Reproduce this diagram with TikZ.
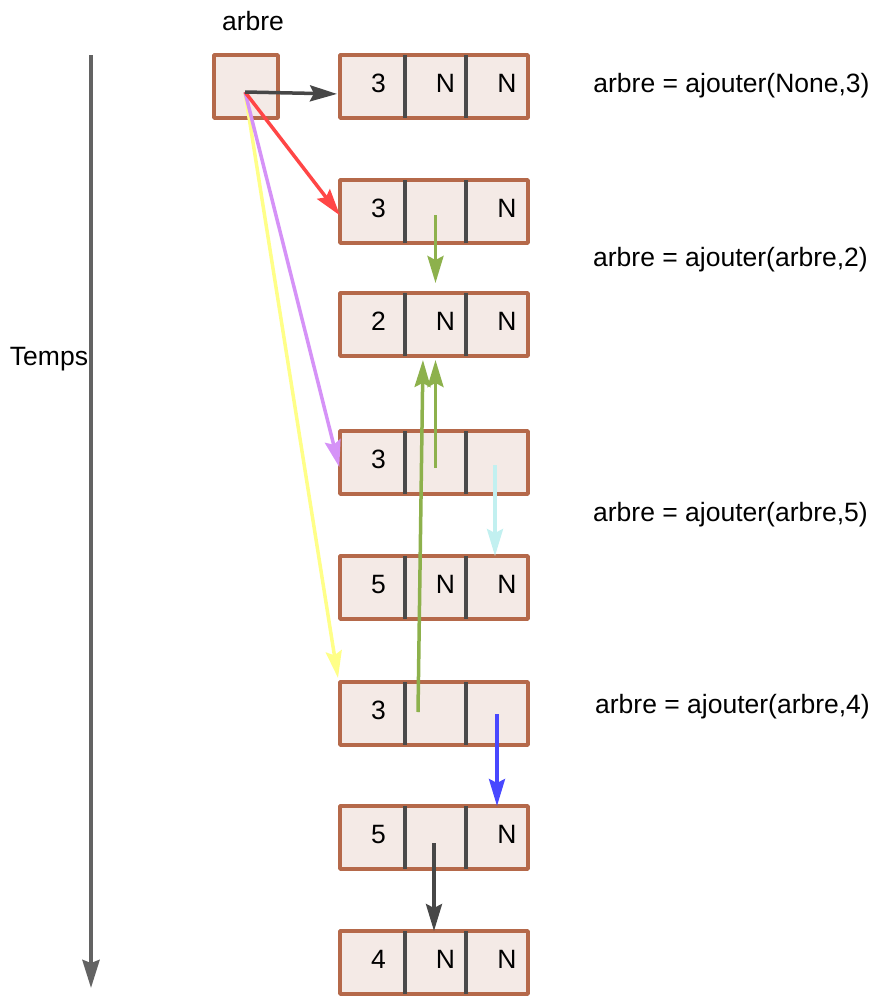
\documentclass[tikz,border=0pt]{standalone}
\usepackage{fontspec}
\setmainfont{Liberation Sans}
\usetikzlibrary{arrows.meta,positioning}
\definecolor{treeFill}{HTML}{F4EAE6}
\definecolor{treeBrown}{HTML}{B5694A}
\definecolor{treeSep}{HTML}{4A4A4A}
\definecolor{linkGray}{HTML}{474747}
\definecolor{linkRed}{HTML}{FF4646}
\definecolor{linkPurple}{HTML}{D592F7}
\definecolor{linkYellow}{HTML}{FFFF88}
\definecolor{linkGreen}{HTML}{8DB14C}
\definecolor{linkCyan}{HTML}{C2F0F0}
\definecolor{linkBlue}{HTML}{4848FF}
\tikzset{
  tree diagram/.style={
    x=1pt, y=-1pt,
    every node/.style={font=\fontsize{26.5}{31}\selectfont,
      text=black, inner sep=0pt, outer sep=0pt}
  },
  tree cell/.style={fill=treeFill, minimum height=63pt},
  tree frame/.style={draw=treeBrown, line width=3.5pt, line join=round},
  tree sep/.style={draw=treeSep, line width=3.5pt},
  tree link/.style={line width=3.5pt,
    -{Stealth[length=27pt,width=16pt,inset=4pt]}},
  time axis/.style={draw=linkGray!85, line width=4pt,
    -{Stealth[length=28pt,width=17pt,inset=3pt]}}
}
% one node of the tree: value | left | right
\newcommand{\TreeRow}[5]{%
  \node[tree cell, minimum width=65pt] (#1a) at (372.5,#2) {};
  \node[tree cell, minimum width=61pt, right=0pt of #1a] (#1b) {};
  \node[tree cell, minimum width=62pt, right=0pt of #1b] (#1c) {};
  \draw[tree frame] (#1a.north west) rectangle (#1c.south east);
  \draw[tree sep] (#1a.north east) -- (#1a.south east);
  \draw[tree sep] (#1b.north east) -- (#1b.south east);
  \node (#1v) at ([xshift=6pt,yshift=3pt]#1a.center) {#3};
  \node (#1g) at ([xshift=10pt,yshift=3pt]#1b.center) {#4};
  \node (#1d) at ([xshift=10pt,yshift=3pt]#1c.center) {#5};
}

\begin{document}
\begin{tikzpicture}[tree diagram]
  \useasboundingbox (0,0) rectangle (872,996);

  % time line
  \coordinate (t0) at (91,55);
  \coordinate (t1) at (91,988);
  \draw[time axis] (t0) -- (t1);
  \node[anchor=east] (temps) at (88,359.5) {Temps};

  % the variable
  \node (arbrelbl) at (253,21) {arbre};
  \node[tree cell, tree frame, minimum width=64pt] (arbre) at (246,86.5) {};
  \coordinate (tete) at (245,92);

  \TreeRow{r1}{86.5}{3}{N}{N}
  \TreeRow{r2}{211.5}{3}{}{N}
  \TreeRow{r3}{324.5}{2}{N}{N}
  \TreeRow{r4}{462.5}{3}{}{}
  \TreeRow{r5}{587.5}{5}{N}{N}
  \TreeRow{r6}{713.5}{3}{}{}
  \TreeRow{r7}{837.5}{5}{}{N}
  \TreeRow{r8}{962.5}{4}{N}{N}

  \node (op1) at (731.5,86) {arbre = ajouter(None,3)};
  \node (op2) at (730.5,260) {arbre = ajouter(arbre,2)};
  \node (op3) at (730.5,515) {arbre = ajouter(arbre,5)};
  \node (op4) at (732.5,707) {arbre = ajouter(arbre,4)};

  % where arbre points after each call
  \draw[tree link, draw=linkYellow, fill=linkYellow] (tete) -- ([xshift=-2pt,yshift=4pt]r6a.north west);
  \draw[tree link, draw=linkPurple, fill=linkPurple, shorten >=3pt] (tete) -- ([yshift=-7.5pt]r4a.west);
  \draw[tree link, draw=linkRed, fill=linkRed] (tete) -- ([yshift=-4pt]r2a.west);
  \draw[tree link, draw=linkGray, fill=linkGray, shorten >=3pt] (tete) -- ([yshift=-7.5pt]r1a.west);

  % children
  \draw[tree link, draw=linkGreen, fill=linkGreen, shorten >=10pt] ([yshift=-3.5pt]r2b.center) -- (r3b.north);
  \draw[tree link, draw=linkGreen, fill=linkGreen, shorten >=4pt] ([yshift=-5.5pt]r4b.center) -- (r3b.south);
  \draw[tree link, draw=linkGreen, fill=linkGreen, shorten >=4pt] ([xshift=-17.5pt,yshift=1.5pt]r6b.center) -- ([xshift=-12.5pt]r3b.south);
  \draw[tree link, draw=linkCyan, fill=linkCyan] ([xshift=-2pt,yshift=-2.5pt]r4c.center) -- ([xshift=-2pt]r5c.north);
  \draw[tree link, draw=linkBlue, fill=linkBlue] ([yshift=-0.5pt]r6c.center) -- (r7c.north);
  \draw[tree link, draw=linkGray, fill=linkGray] ([xshift=-1.5pt,yshift=-5.5pt]r7b.center) -- ([xshift=-1.5pt]r8b.north);
\end{tikzpicture}
\end{document}
